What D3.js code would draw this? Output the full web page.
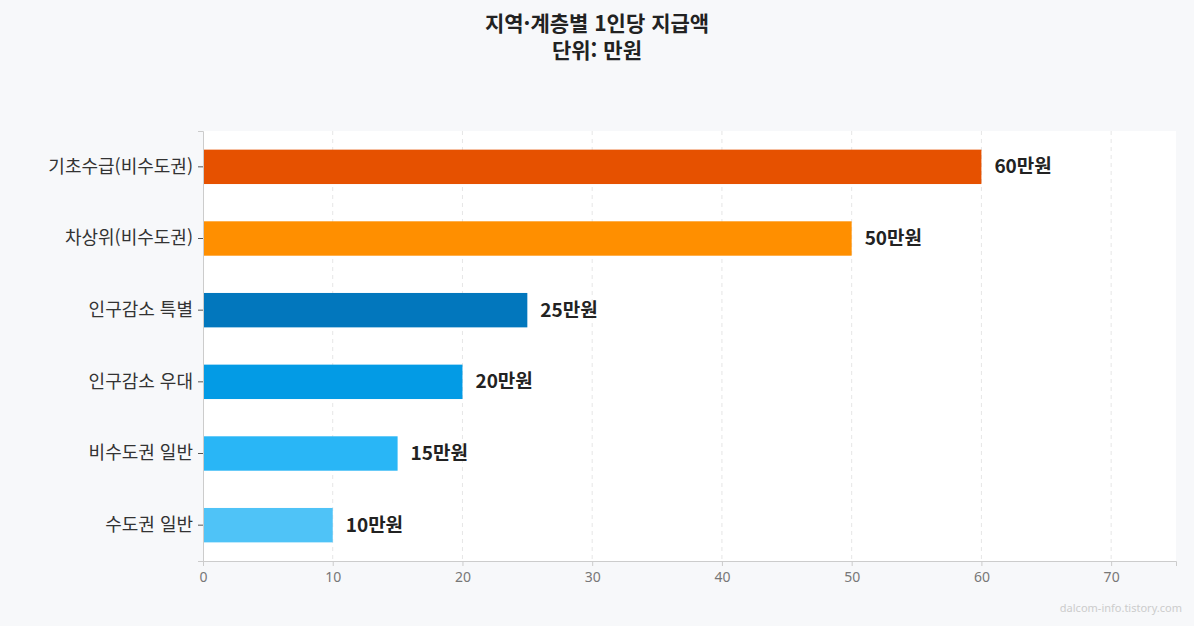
<!doctype html>
<html lang="ko">
<head>
<meta charset="utf-8">
<script src="https://d3js.org/d3.v7.min.js"></script>
<style>
    html, body { margin: 0; padding: 0; background: #f7f8fa; }
    svg { display: block; font-family: "Noto Sans CJK KR", "Noto Sans", sans-serif; }
</style>
</head>
<body>
<svg id="svg" width="1194" height="626"></svg>
<script>
    var categories = ["기초수급(비수도권)", "차상위(비수도권)", "인구감소 특별", "인구감소 우대", "비수도권 일반", "수도권 일반"];
    var values = [60, 50, 25, 20, 15, 10];
    var colors = ["#e65100", "#ff8f00", "#0277bd", "#039be5", "#29b6f6", "#4fc3f7"];
    var ticks = [0, 10, 20, 30, 40, 50, 60, 70];

    var svg = d3.select("#svg");
    var plotL = 203, plotR = 1176, plotT = 131, plotB = 561;

    var x = d3.scaleLinear().domain([0, 75]).range([plotL, plotR]);
    var y = d3.scaleBand().domain(categories).range([plotT, plotB]).paddingInner(0.52).paddingOuter(0.26);

    svg.append("rect")
        .attr("x", plotL).attr("y", plotT)
        .attr("width", plotR - plotL).attr("height", plotB - plotT)
        .attr("fill", "#fff");

    // grid
    svg.selectAll(".grid").data(ticks.slice(1)).enter().append("line")
        .attr("x1", function (d) { return x(d); })
        .attr("x2", function (d) { return x(d); })
        .attr("y1", plotT).attr("y2", plotB)
        .attr("stroke", "#e6e6e6").attr("stroke-dasharray", "4,4");

    // bars
    svg.selectAll(".bar").data(values).enter().append("rect")
        .attr("x", x(0) + 1)
        .attr("y", function (d, i) { return y(categories[i]); })
        .attr("width", function (d) { return x(d) - x(0) - 1; })
        .attr("height", y.bandwidth())
        .attr("fill", function (d, i) { return colors[i]; });

    svg.selectAll(".val").data(values).enter().append("text")
        .attr("x", function (d) { return x(d) + 13; })
        .attr("y", function (d, i) { return y(categories[i]) + y.bandwidth() / 2; })
        .attr("dy", "0.35em")
        .attr("font-size", 19).attr("font-weight", "bold").attr("fill", "#222")
        .text(function (d) { return d + "만원"; });

    // axes
    var xa = svg.append("g").attr("transform", "translate(0," + plotB + ")")
        .call(d3.axisBottom(x).tickValues(ticks).tickSize(5).tickPadding(6));
    xa.select(".domain").attr("stroke", "#ccc");
    xa.selectAll(".tick line").attr("stroke", "#ccc");
    xa.selectAll("text").attr("font-size", 14).attr("fill", "#777").attr("font-family", "Noto Sans, sans-serif");

    var ya = svg.append("g").attr("transform", "translate(" + plotL + ",0)")
        .call(d3.axisLeft(y).tickSize(5).tickPadding(5));
    ya.select(".domain").attr("stroke", "#ccc");
    ya.selectAll(".tick line").attr("stroke", "#555");
    ya.selectAll("text").attr("font-size", 18).attr("fill", "#333").attr("font-family", "Noto Sans CJK KR, sans-serif");

    // title
    svg.append("text").attr("x", 597).attr("y", 31).attr("text-anchor", "middle")
        .attr("font-size", 21).attr("font-weight", "bold").attr("fill", "#222")
        .text("지역·계층별 1인당 지급액");
    svg.append("text").attr("x", 597).attr("y", 58).attr("text-anchor", "middle")
        .attr("font-size", 21).attr("font-weight", "bold").attr("fill", "#222")
        .text("단위: 만원");

    svg.append("text").attr("x", 1182).attr("y", 612).attr("text-anchor", "end")
        .attr("font-size", 11).attr("fill", "#ccc").attr("font-family", "Noto Sans, sans-serif")
        .text("dalcom-info.tistory.com");
</script>
</body>
</html>
